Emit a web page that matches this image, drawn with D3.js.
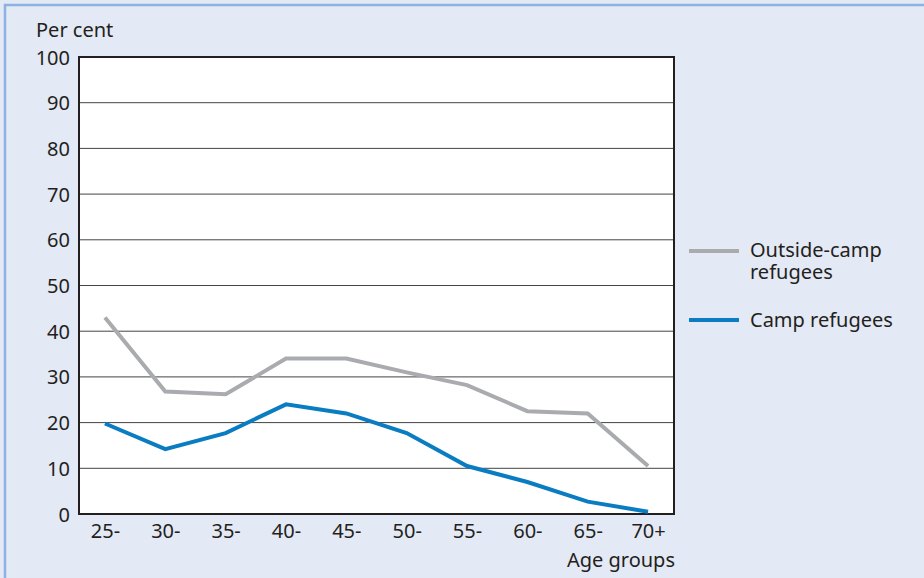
<!DOCTYPE html>
<html><head><meta charset="utf-8">
<script src="https://cdn.jsdelivr.net/npm/d3@7"></script>
<style>body{margin:0;background:#fff}svg{display:block}text{font-family:"Noto Sans","Open Sans",sans-serif;fill:#231f20}</style>
</head><body><svg id="c" width="924" height="578"></svg>
<script>
const categories = ["25-","30-","35-","40-","45-","50-","55-","60-","65-","70+"];
const outsideCamp = [43,26.8,26.2,34,34,31,28.2,22.5,22,10.5];
const camp = [19.8,14.2,17.7,24,22,17.7,10.5,7,2.7,0.5];
const yTicks = [0,10,20,30,40,50,60,70,80,90,100];
const seriesNames = ["Outside-camp refugees","Camp refugees"];

const FS="20px";
const svg = d3.select("#c");
svg.append("rect").attr("x",0).attr("y",0).attr("width",924).attr("height",578).attr("fill","#e3e9f5");
svg.append("path").attr("d","M5,578 V5 H924").attr("fill","none").attr("stroke","#8db2e2").attr("stroke-width",2.5);

const L=79,T=57,R=674,B=514;
const x=d3.scalePoint().domain(categories).range([L,R]).padding(0.43);
const y=d3.scaleLinear().domain([0,100]).range([B,T]);

svg.append("rect").attr("x",L).attr("y",T).attr("width",R-L).attr("height",B-T).attr("fill","#fff");
svg.append("g").selectAll("line").data(yTicks.filter(d=>d>0&&d<100)).join("line")
 .attr("x1",L).attr("x2",R).attr("y1",d=>y(d)).attr("y2",d=>y(d)).attr("stroke","#444").attr("stroke-width",1);
svg.append("rect").attr("x",L).attr("y",T).attr("width",R-L).attr("height",B-T).attr("fill","none").attr("stroke","#231f20").attr("stroke-width",2);

const yAxis=svg.append("g").attr("transform",`translate(${L},0)`).call(d3.axisLeft(y).tickValues(yTicks).tickSize(0).tickPadding(9));
yAxis.select(".domain").remove();
yAxis.selectAll("text").style("font-size",FS).attr("dy","0.35em").attr("fill","#231f20");
const xAxis=svg.append("g").attr("transform",`translate(0,${B})`).call(d3.axisBottom(x).tickSize(0).tickPadding(10));
xAxis.select(".domain").remove();
xAxis.selectAll("text").style("font-size",FS).attr("fill","#231f20");

svg.append("text").attr("x",36).attr("y",37).style("font-size",FS).text("Per cent");
svg.append("text").attr("x",675).attr("y",567).attr("text-anchor","end").style("font-size",FS).text("Age groups");

const line=d3.line().x((d,i)=>x(categories[i])).y(d=>y(d));
svg.append("path").datum(outsideCamp).attr("d",line).attr("fill","none").attr("stroke","#a9abae").attr("stroke-width",4);
svg.append("path").datum(camp).attr("d",line).attr("fill","none").attr("stroke","#0a7dc2").attr("stroke-width",4);

// legend
svg.append("line").attr("x1",689).attr("x2",739).attr("y1",251).attr("y2",251).attr("stroke","#a9abae").attr("stroke-width",4);
const lt=svg.append("text").attr("x",750).attr("y",257).style("font-size",FS);
lt.append("tspan").attr("x",750).attr("dy",0).text("Outside-camp");
lt.append("tspan").attr("x",750).attr("dy",22).text("refugees");
svg.append("line").attr("x1",689).attr("x2",739).attr("y1",320).attr("y2",320).attr("stroke","#0a7dc2").attr("stroke-width",4);
svg.append("text").attr("x",750).attr("y",327).style("font-size",FS).text("Camp refugees");
</script></body></html>
